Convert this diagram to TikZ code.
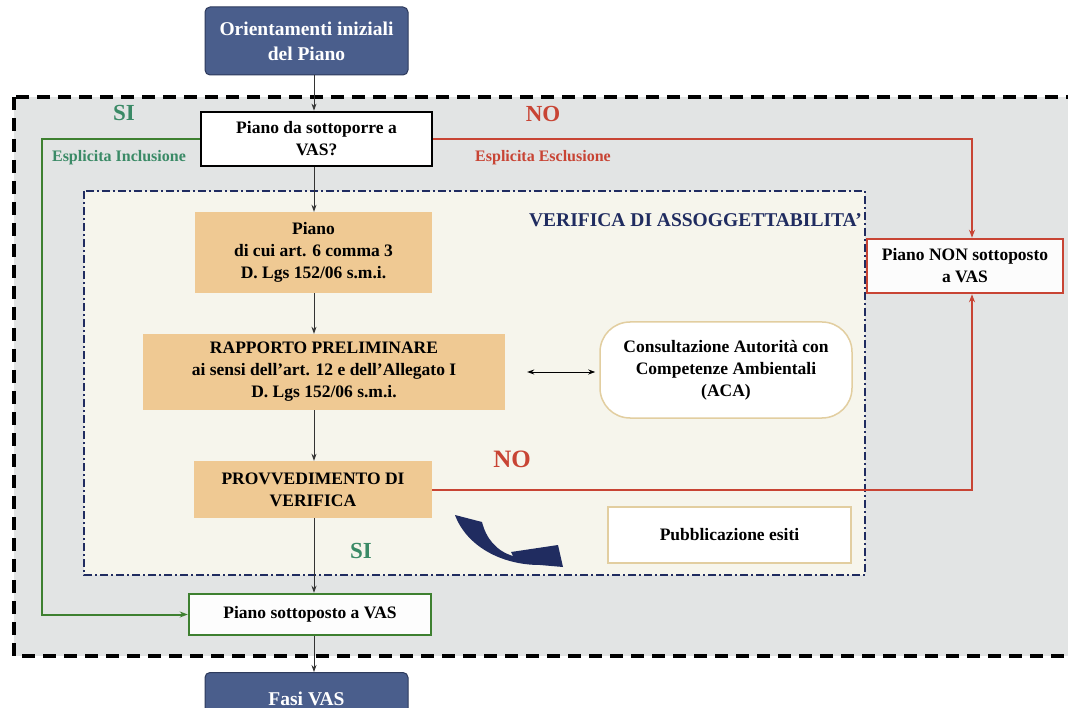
\documentclass[tikz,border=0pt]{standalone}
\usepackage{fontspec}
\setmainfont{Liberation Serif}
\usetikzlibrary{arrows.meta,calc}
\definecolor{bluebox}{RGB}{74,94,140}
\definecolor{blueedge}{RGB}{45,58,92}
\definecolor{outerbg}{RGB}{226,228,228}
\definecolor{innerbg}{RGB}{246,245,236}
\definecolor{tan}{RGB}{239,201,147}
\definecolor{greenline}{RGB}{62,128,48}
\definecolor{greentext}{RGB}{58,138,102}
\definecolor{redline}{RGB}{200,68,52}
\definecolor{navy}{RGB}{32,44,96}
\definecolor{beige}{RGB}{226,206,160}
\begin{document}
\begin{tikzpicture}[x=1pt,y=-1pt,
  every node/.style={font=\fontsize{17.5}{22}\selectfont\bfseries, align=center, inner sep=2pt},
  bluenode/.style={draw=blueedge, line width=1pt, fill=bluebox, text=white, rounded corners=5pt,
     minimum width=203pt, font=\fontsize{19.5}{25}\selectfont\bfseries},
  tanbox/.style={fill=tan},
  arr/.style={-{Stealth[length=7pt,width=5pt]}, line width=0.8pt, black!80},
  lbl/.style={font=\fontsize{23}{26}\selectfont\bfseries}
]
\clip (0,0) rectangle (1068,708);
\useasboundingbox (0,0) rectangle (1068,708);
\fill[white] (0,0) rectangle (1068,708);
% outer dashed frame
\draw[fill=outerbg, line width=3.5pt, dash pattern=on 13pt off 8pt] (14,97) rectangle (1090,656);
% inner dash-dot frame
\draw[fill=innerbg, draw=navy, line width=1.6pt, dash pattern=on 8pt off 3pt on 2pt off 3pt] (84,191) rectangle (865,575);

\coordinate (col) at (314,0);
\coordinate (gl) at (42,0);
\coordinate (rl) at (972,0);

\node[bluenode, minimum height=68pt] (orient) at (306.5,41) {Orientamenti iniziali\\del Piano};
\node[draw=black, line width=2.8pt, fill=white, minimum width=231pt, minimum height=54pt] (q) at (316.5,139) {Piano da sottoporre a\\VAS?};
\node[tanbox, minimum width=237pt, minimum height=81pt] (piano) at (313.5,252.5) {Piano\\di cui art. 6 comma 3\\D. Lgs 152/06 s.m.i.};
\node[tanbox, minimum width=362pt, minimum height=76pt] (rapp) at (324,372) {RAPPORTO PRELIMINARE\\ai sensi dell’art. 12 e dell’Allegato I\\D. Lgs 152/06 s.m.i.};
\node[draw=beige, line width=1.5pt, fill=white, rounded corners=30pt, minimum width=252pt, minimum height=96pt] (aca) at (726,370) {Consultazione Autorità con\\Competenze Ambientali\\(ACA)};
\node[tanbox, minimum width=238pt, minimum height=57pt] (prov) at (313,489.5) {PROVVEDIMENTO DI\\VERIFICA};
\node[draw=beige, line width=1.8pt, fill=white, minimum width=243pt, minimum height=56pt] (pub) at (729.5,535) {Pubblicazione esiti};
\node[draw=greenline, line width=2.5pt, fill=white!94!outerbg, minimum width=242pt, minimum height=41pt] (vas) at (310,614.5) {Piano sottoposto a VAS};
\node[draw=redline, line width=2.5pt, fill=white!90!outerbg, minimum width=196pt, minimum height=54pt] (non) at (965,266) {Piano NON sottoposto\\a VAS};
\node[bluenode, minimum height=52pt, anchor=north] (fasi) at (306.5,672) {Fasi VAS};

% labels
\node[lbl, text=greentext] (si1) at (124,113) {SI};
\node[lbl, text=redline] (no1) at (543,114) {NO};
\node[text=greentext, font=\fontsize{16}{18}\selectfont\bfseries] (incl) at (119,158) {Esplicita Inclusione};
\node[text=redline, font=\fontsize{16}{18}\selectfont\bfseries] (escl) at (543,158) {Esplicita Esclusione};
\node[text=navy, font=\fontsize{19.5}{24}\selectfont\bfseries, anchor=east, inner sep=0pt] (ver) at (862,220) {VERIFICA DI ASSOGGETTABILITA’};
\node[lbl, text=redline, font=\fontsize{25}{28}\selectfont\bfseries] (no2) at (512,459) {NO};
\node[lbl, text=greentext, font=\fontsize{23}{26}\selectfont\bfseries] (si2) at (361,551) {SI};

% main flow
\draw[arr] (orient.south -| col) -- (q.north -| col);
\draw[arr] (q.south -| col) -- (piano.north -| col);
\draw[arr] (piano.south -| col) -- (rapp.north -| col);
\draw[arr] (rapp.south -| col) -- (prov.north -| col);
\draw[arr] (prov.south -| col) -- (vas.north -| col);
\draw[arr] (vas.south -| col) -- (fasi.north -| col);
% double arrow
\draw[{Stealth[length=7pt,width=5pt]}-{Stealth[length=7pt,width=5pt]}, line width=0.9pt, shorten <=22pt, shorten >=4pt] (rapp.east) -- (rapp.east -| aca.west);
% green branch
\draw[greenline, line width=2pt, -{Stealth[length=8pt,width=6pt]}] (q.west) -| (vas.west -| gl) -- (vas.west);
% red branches
\draw[redline, line width=2pt, -{Stealth[length=8pt,width=6pt]}] (q.east) -| (non.north -| rl);
\draw[redline, line width=2pt, -{Stealth[length=8pt,width=6pt]}] (prov.east) -| (non.south -| rl);
% curved blue arrow
\fill[navy] (455,515) -- (482,522) .. controls (486,538) and (496,551) .. (513,556) -- (511,552) -- (558,545) -- (563,567) -- (540,565) .. controls (500,565) and (466,545) .. (455,515) -- cycle;
\end{tikzpicture}
\end{document}
